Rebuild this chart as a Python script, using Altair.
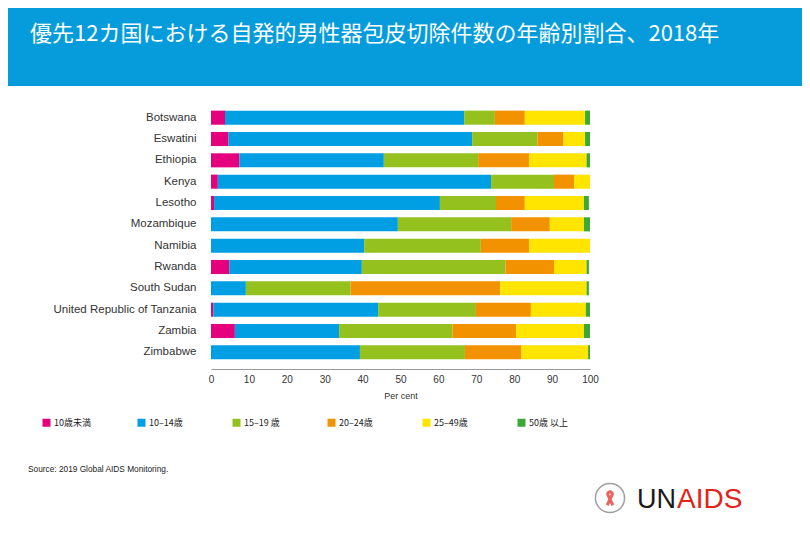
import altair as alt
import pandas as pd

countries = ["Botswana", "Eswatini", "Ethiopia", "Kenya", "Lesotho", "Mozambique",
             "Namibia", "Rwanda", "South Sudan", "United Republic of Tanzania",
             "Zambia", "Zimbabwe"]
groups = ["10歳未満", "10–14歳", "15–19 歳", "20–24歳", "25–49歳", "50歳 以上"]
under10 = [3.7, 4.6, 7.5, 1.8, 0.8, 0.0, 0.0, 4.8, 0.0, 0.6, 6.3, 0.0]
a10_14 = [63.1, 64.3, 38.1, 72.1, 59.6, 49.3, 40.4, 35.0, 9.2, 43.5, 27.5, 39.3]
a15_19 = [8.1, 17.2, 24.9, 16.6, 14.8, 29.9, 30.8, 37.9, 27.6, 25.8, 29.9, 27.7]
a20_24 = [7.9, 6.9, 13.4, 5.3, 7.6, 10.2, 12.7, 12.8, 39.5, 14.5, 16.8, 14.8]
a25_49 = [15.9, 5.7, 15.2, 4.2, 15.6, 9.0, 16.1, 8.6, 22.8, 14.5, 17.9, 17.7]
a50plus = [1.3, 1.3, 0.9, 0.0, 1.3, 1.6, 0.0, 0.6, 0.6, 1.1, 1.6, 0.5]
colors = ["#E5007D", "#009FE3", "#95C11F", "#F39200", "#FFE500", "#3AAA35"]

title = "優先12カ国における自発的男性器包皮切除件数の年齢別割合、2018年"
source = "Source: 2019 Global AIDS Monitoring."

series = [under10, a10_14, a15_19, a20_24, a25_49, a50plus]
rows = []
for gi, (g, vals) in enumerate(zip(groups, series)):
    for c, v in zip(countries, vals):
        rows.append({"country": c, "group": g, "value": v, "ord": gi})
df = pd.DataFrame(rows)

EN = "'Liberation Sans', Arial, 'Noto Sans CJK JP'"
JP = "'Noto Sans CJK JP', 'Liberation Sans'"

bars = alt.Chart(df).mark_bar().encode(
    y=alt.Y("country:N", sort=countries,
            scale=alt.Scale(paddingInner=0.34, paddingOuter=0.17),
            axis=alt.Axis(title=None, ticks=False, domain=False, labelPadding=15,
                          labelFontSize=11.5, labelFont=EN, labelColor="#333333",
                          labelLimit=300)),
    x=alt.X("value:Q", stack="zero",
            scale=alt.Scale(domain=[0, 100], nice=False),
            axis=alt.Axis(title="Per cent", values=list(range(0, 101, 10)),
                          ticks=False, grid=False, domainColor="#999999",
                          offset=6, labelPadding=5, labelFontSize=10,
                          labelFlush=False,
                          labelFont=EN, labelColor="#333333",
                          titleFont=EN, titleFontSize=9, titleFontWeight="normal",
                          titleColor="#333333", titlePadding=7)),
    color=alt.Color("group:N", sort=groups,
                    scale=alt.Scale(domain=groups, range=colors),
                    legend=alt.Legend(title=None, orient="none", direction="horizontal",
                                      columns=6, legendX=-169, legendY=311,
                                      symbolType="square", symbolSize=64,
                                      symbolStrokeWidth=0, symbolOpacity=1,
                                      labelFont=JP, labelFontSize=9,
                                      labelColor="#222222", labelOffset=3,
                                      columnPadding=43, gridAlign="all",
                                      padding=0)),
    order=alt.Order("ord:Q", sort="ascending"),
)

one = pd.DataFrame({"t": [title]})
banner = alt.Chart(one).mark_rect(color="#069CDC").encode(
    x=alt.value(-203), x2=alt.value(591), y=alt.value(-99), y2=alt.value(-21))
title_txt = alt.Chart(one).mark_text(
    align="left", baseline="middle", font=JP, fontSize=22, color="white").encode(
    x=alt.value(-181), y=alt.value(-73), text="t:N")

src = pd.DataFrame({"t": [source]})
src_txt = alt.Chart(src).mark_text(
    align="left", baseline="middle", font=EN, fontSize=8.3, color="#222222").encode(
    x=alt.value(-183), y=alt.value(363), text="t:N")

un = pd.DataFrame({"t": ["UN"]})
aids = pd.DataFrame({"t": ["AIDS"]})
un_txt = alt.Chart(un).mark_text(
    align="left", baseline="alphabetic", font=EN, fontSize=27, color="#1a1a1a").encode(
    x=alt.value(426), y=alt.value(401), text="t:N")
aids_txt = alt.Chart(aids).mark_text(
    align="left", baseline="alphabetic", font=EN, fontSize=28, color="#E2231A").encode(
    x=alt.value(466), y=alt.value(401), text="t:N")
emblem = alt.Chart(un).mark_point(
    shape="circle", size=850, filled=False, color="#777777", strokeWidth=1.5).encode(
    x=alt.value(399), y=alt.value(391))
ribbon = alt.Chart(un).mark_point(
    shape="M-0.35,0.9 L0.25,-0.35 A0.28,0.28 0 1 0 -0.25,-0.35 L0.35,0.9",
    size=260, filled=False, color="#E2231A", strokeWidth=3).encode(
    x=alt.value(399), y=alt.value(391))

chart = alt.layer(banner, title_txt, bars, src_txt, emblem, ribbon, un_txt, aids_txt).properties(
    width=379, height=256,
    padding={"left": 203, "top": 99, "right": 212, "bottom": 169},
    autosize=alt.AutoSizeParams(type="none"),
    background="white",
).configure_view(stroke=None)

chart.save("out.html", embed_options={"renderer": "svg", "actions": False})
